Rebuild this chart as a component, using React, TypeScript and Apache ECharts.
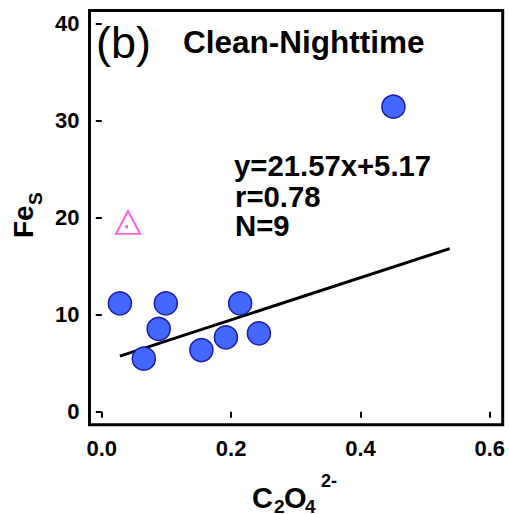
import React, { useEffect, useRef } from "react";
import * as echarts from "echarts";

const xTicks = [0, 0.2, 0.4, 0.6];
const yTicks = [0, 10, 20, 30, 40];
const oxalate = [0.028, 0.065, 0.088, 0.099, 0.154, 0.192, 0.214, 0.243, 0.451];
const feS = [11.16, 5.46, 8.52, 11.16, 6.35, 7.66, 11.16, 8.07, 31.41];
const outlier = [[0.0406, 19.5]];
const outlierDot = [[0.0383, 19.05]];
const fitLine = [[0.028, 5.72], [0.538, 16.8]];
const fitText = ["y=21.57x+5.17", "r=0.78", "N=9"];

const FONT = "Liberation Sans";

export default function App() {
  const ref = useRef<HTMLDivElement>(null);
  useEffect(() => {
    if (!ref.current) return;
    const chart = echarts.init(ref.current, null, { renderer: "svg" });
    const txt = (text: string, x: number, y: number, size: number, bold = true, align = "left", extra: any = {}) => ({
      type: "text",
      x,
      y,
      style: {
        text,
        fontSize: size,
        fontWeight: bold ? "bold" : "normal",
        fontFamily: FONT,
        fill: "#000",
        align,
        verticalAlign: "middle",
      },
      ...extra,
    });
    chart.setOption({
      animation: false,
      backgroundColor: "#fff",
      title: {
        text: "(b)",
        left: 96,
        top: 19.5,
        padding: 0,
        textStyle: { fontSize: 45, lineHeight: 45, fontWeight: "normal", fontFamily: FONT, color: "#000" },
      },
      grid: {
        left: 89.5,
        right: 7.3,
        top: 10.5,
        bottom: 89.3,
        show: true,
        borderColor: "#000",
        borderWidth: 3,
        backgroundColor: "transparent",
      },
      xAxis: {
        type: "value",
        min: -0.019,
        max: 0.62,
        splitLine: { show: false },
        axisLine: { show: false },
        axisTick: { show: true, length: 6, lineStyle: { color: "#000", width: 2 }, customValues: xTicks },
        axisLabel: {
          customValues: xTicks,
          formatter: (v: number) => v.toFixed(1),
          fontSize: 22,
          fontWeight: "bold",
          fontFamily: FONT,
          color: "#000",
          margin: 13,
        },
      },
      yAxis: {
        type: "value",
        min: -1.34,
        max: 41.32,
        splitLine: { show: false },
        axisLine: { show: false },
        axisTick: { show: true, length: 6, lineStyle: { color: "#000", width: 2 }, customValues: yTicks },
        axisLabel: {
          customValues: yTicks,
          formatter: (v: number) => String(v),
          fontSize: 22,
          fontWeight: "bold",
          fontFamily: FONT,
          color: "#000",
          margin: 10,
        },
      },
      series: [
        {
          type: "line",
          data: fitLine,
          symbol: "none",
          lineStyle: { color: "#000", width: 3 },
          z: 2,
        },
        {
          type: "scatter",
          data: oxalate.map((x, i) => [x, feS[i]]),
          symbol: "circle",
          symbolSize: 23,
          itemStyle: { color: "#4368ff", borderColor: "#1c1ca8", borderWidth: 1.5, opacity: 1 },
          z: 3,
        },
        {
          type: "scatter",
          data: outlier,
          symbol: "triangle",
          symbolSize: [24, 23],
          itemStyle: { color: "rgba(255,255,255,0)", borderColor: "#ff33dd", borderWidth: 2 },
          z: 3,
        },
        {
          type: "scatter",
          data: outlierDot,
          symbol: "rect",
          symbolSize: 3,
          itemStyle: { color: "#ff33dd" },
          z: 3,
        },
      ],
      graphic: [
        {
          type: "rect",
          shape: { x: 92, y: 13.5, width: 14, height: 9 },
          style: { fill: "#fff" },
          z: 100,
        },
        txt("Clean-Nighttime", 183, 42, 31.5, true),
        txt(fitText[0], 234, 165, 29.3, true),
        txt(fitText[1], 235, 196, 29.3, true),
        txt(fitText[2], 235, 225, 29.3, true),
        txt("C", 252, 497.5, 29, true),
        txt("2", 274, 506.5, 19, true),
        txt("O", 284, 497.5, 29, true),
        txt("4", 305, 506.5, 19, true),
        txt("2-", 321, 481, 18, true),
        {
          type: "group",
          x: 33,
          y: 238,
          rotation: Math.PI / 2,
          children: [
            txt("Fe", 0, -9.8, 28, true),
            txt("S", 33, 2.4, 19, true),
          ],
        },
      ],
    });
    return () => chart.dispose();
  }, []);
  return (
    <div style={{ position: "fixed", left: 0, top: 0, width: 510, height: 514, background: "#fff" }}>
      <div ref={ref} style={{ width: 510, height: 514 }} />
    </div>
  );
}
